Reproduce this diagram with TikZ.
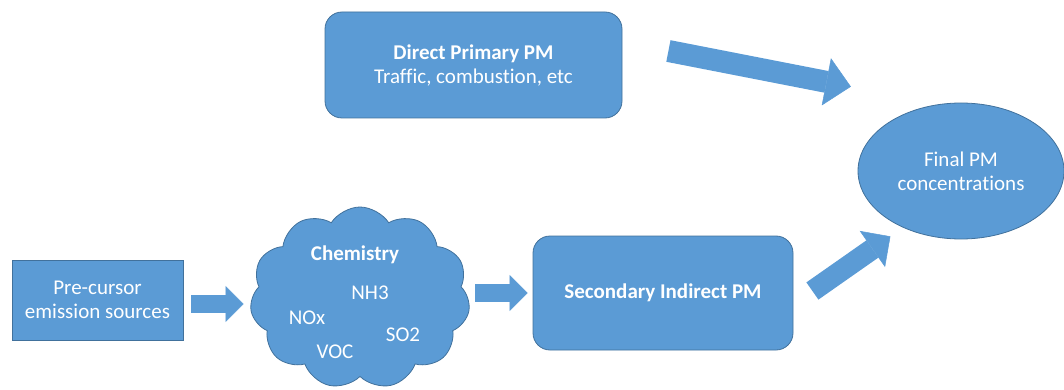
\documentclass[tikz,border=0pt]{standalone}
\usepackage{fontspec}
\setmainfont[Ligatures=NoCommon]{Carlito}
\usetikzlibrary{shapes.geometric,shapes.symbols,arrows.meta}
\definecolor{boxfill}{HTML}{5B9BD5}
\definecolor{boxline}{HTML}{41719C}

\begin{document}
\begin{tikzpicture}[x=1pt,y=-1pt,
  every node/.style={font=\fontsize{21}{24}\selectfont, text=white},
  blob/.style={fill=boxfill, draw=boxline, line width=0.8pt},
  plainbox/.style={blob, rectangle, align=center, inner sep=0pt},
  roundbox/.style={plainbox, rounded corners=17pt},
  fatarrow/.style={draw=boxfill, line width=18pt,
    -{Triangle[width=36pt,length=18pt,line width=0.5pt]}}]
\useasboundingbox (0,0) rectangle (1064,390);

\node[plainbox, minimum width=171pt, minimum height=80pt] (pre) at (97.5,300) {Pre-cursor\\emission sources};

\node[blob, cloud, cloud puffs=11, cloud puff arc=115, minimum width=220pt, minimum height=182pt] (chem) at (360,298) {};
\node (chemtitle) at (355,255) {\bfseries Chemistry};
\node (nh) at (370,293) {NH3};
\node (nox) at (307,318) {NOx};
\node (so) at (403,335) {SO2};
\node (voc) at (335,352) {VOC};

\node[roundbox, minimum width=260pt, minimum height=114pt] (sec) at (663,293) {\bfseries Secondary Indirect PM};

\node[roundbox, minimum width=297pt, minimum height=106pt] (direct) at (473.5,65) {\bfseries Direct Primary PM\\Traffic, combustion, etc};

\node[blob, ellipse, align=center, minimum width=206pt, minimum height=136pt] (final) at (961,171) {Final PM\\concentrations};

% block arrows
\draw[fatarrow, shorten <=8pt, shorten >=8pt] ([yshift=-4pt]pre.east) -- ([yshift=-4pt]pre.east -| chem.west);
\draw[fatarrow, shorten <=7pt, shorten >=5pt] (chem.east |- sec.west) -- (sec.west);
\draw[fatarrow, line width=22pt, -{Triangle[width=48pt,length=25pt,line width=0.5pt]}]
  ([shift={(46,-14)}]direct.east) -- ([shift={(-37,-36)}]final.north west);
\draw[fatarrow, line width=21pt, -{Triangle[width=44pt,length=22pt,line width=0.5pt]}]
  ([shift={(19,-2)}]sec.east) -- ([shift={(2.5,17)}]final.south west);
\end{tikzpicture}
\end{document}
